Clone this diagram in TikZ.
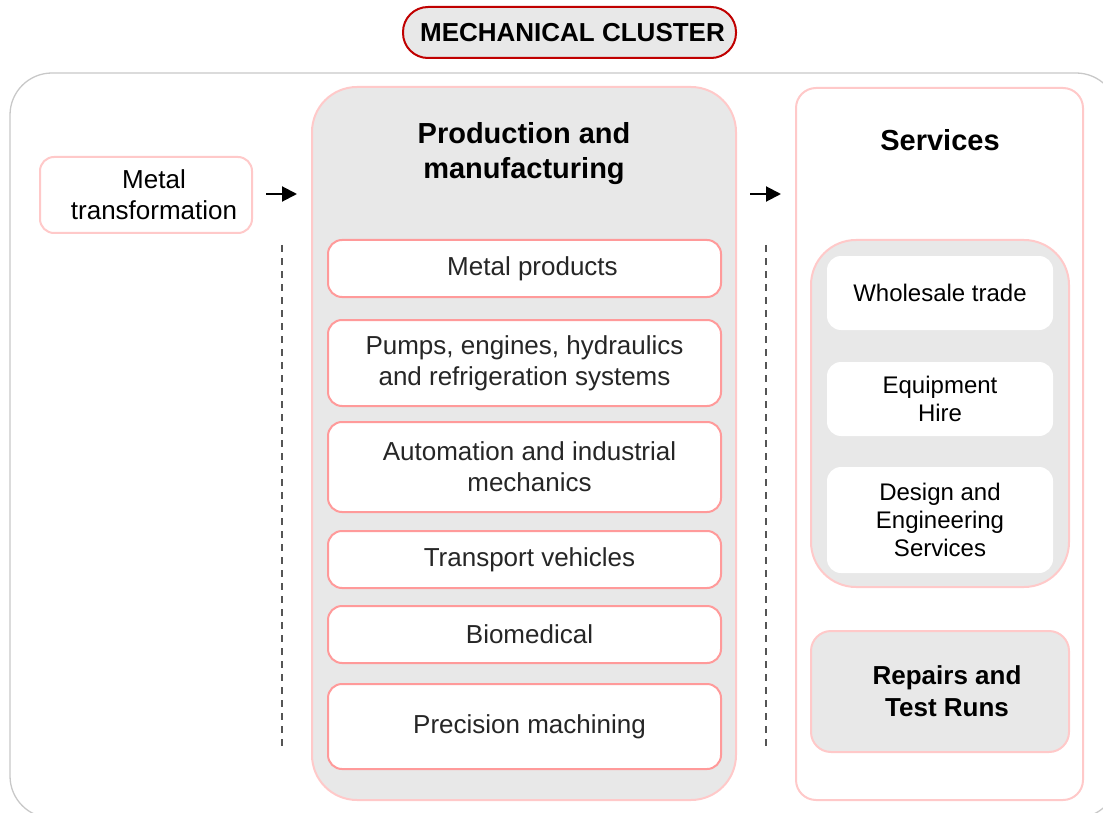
\documentclass[tikz,border=0pt]{standalone}
\usepackage{fontspec}
\setmainfont{Liberation Sans}
\usetikzlibrary{arrows.meta,calc}
\definecolor{pinkline}{HTML}{FFC9C9}
\definecolor{redline}{HTML}{FF9A9A}
\definecolor{titlered}{HTML}{C00000}
\definecolor{panelgray}{HTML}{E8E8E8}
\definecolor{outergray}{HTML}{C8C8C8}
\definecolor{textdark}{HTML}{262626}
\definecolor{dashgray}{HTML}{555555}
\begin{document}
\begin{tikzpicture}[x=1pt,y=-1pt,
  base/.style={inner sep=0pt, outer sep=0pt, anchor=north west, align=center},
  panel/.style={base, draw=pinkline, line width=2pt, fill=panelgray, rounded corners=45pt},
  svcpanel/.style={base, draw=pinkline, line width=2pt, fill=white, rounded corners=20pt},
  item/.style={base, draw=redline, line width=2pt, fill=white, rounded corners=14pt,
    text=textdark, font=\fontsize{26}{31}\selectfont, minimum width=393pt},
  svcitem/.style={base, fill=white, rounded corners=14pt, text=black,
    font=\fontsize{24}{28}\selectfont, minimum width=226pt},
  headline/.style={font=\bfseries\fontsize{29}{35}\selectfont, align=center, text=black},
  flow/.style={line width=2pt, -{Triangle[length=15pt,width=15pt]}},
  sep/.style={dashgray, line width=2pt, dash pattern=on 7pt off 6pt}
]
\useasboundingbox (0,0) rectangle (1103,813);

% outer cluster frame
\node[base, draw=outergray, line width=1.3pt, rounded corners=42pt,
  minimum width=1108pt, minimum height=745pt] (cluster) at (10,73) {};

% title pill
\node[base, draw=titlered, line width=2pt, fill=panelgray, rounded corners=25pt,
  minimum width=333pt, minimum height=51pt, font=\bfseries\fontsize{26}{31}\selectfont]
  (title) at (403,7) {\hspace*{6pt}MECHANICAL CLUSTER};

% metal transformation
\node[base, draw=pinkline, line width=2pt, fill=white, rounded corners=14pt,
  minimum width=212pt, minimum height=76pt, text=black,
  font=\fontsize{26}{31}\selectfont] (mt) at (40,157) {\hspace*{16pt}Metal\\\hspace*{16pt}transformation};

% production panel
\node[panel, minimum width=424pt, minimum height=713pt] (prod) at (312,87) {};
\node[headline] (prodtitle) at (524,154) {Production and\\manufacturing};

\node[item, minimum height=57pt] (mp) at (328,240) {\hspace*{16pt}Metal products};
\node[item, minimum height=86pt] (pumps) at (328,320) {Pumps, engines, hydraulics\\and refrigeration systems};
\node[item, minimum height=90pt] (auto) at (328,422) {\hspace*{10pt}Automation and industrial\\\hspace*{10pt}mechanics};
\node[item, minimum height=57pt] (trans) at (328,531) {\hspace*{10pt}Transport vehicles};
\node[item, minimum height=57pt] (bio) at (328,606) {\hspace*{10pt}Biomedical};
\node[item, minimum height=85pt] (prec) at (328,684) {\hspace*{10pt}Precision machining};

% services panel
\node[svcpanel, minimum width=287pt, minimum height=712pt] (svc) at (796,88) {};
\node[headline] (svctitle) at (940,140) {Services};

\node[panel, minimum width=258pt, minimum height=347pt] (svcgroup) at (811,240) {};
\node[svcitem, minimum height=74pt] (whole) at (827,256) {Wholesale trade};
\node[svcitem, minimum height=74pt] (hire) at (827,362) {Equipment\\Hire};
\node[svcitem, minimum height=106pt] (design) at (827,467) {Design and\\Engineering\\Services};

\node[base, draw=pinkline, line width=2pt, fill=panelgray, rounded corners=20pt,
  minimum width=258pt, minimum height=121pt,
  font=\bfseries\fontsize{26}{32}\selectfont] (repairs) at (811,631)
  {\hspace*{14pt}Repairs and\\\hspace*{14pt}Test Runs};

% flow arrows
\draw[flow] ($(mt.east)+(14,-1)$) -- ($(prod.west |- mt.east)+(-15,-1)$);
\draw[flow] ($(prod.east |- mt.east)+(14,-1)$) -- ($(svc.west |- mt.east)+(-15,-1)$);

% dashed separators
\coordinate (d1a) at (282,245);
\coordinate (d1b) at (282,752);
\coordinate (d2a) at (766,245);
\coordinate (d2b) at (766,752);
\draw[sep] (d1a) -- (d1b);
\draw[sep] (d2a) -- (d2b);
\end{tikzpicture}
\end{document}
